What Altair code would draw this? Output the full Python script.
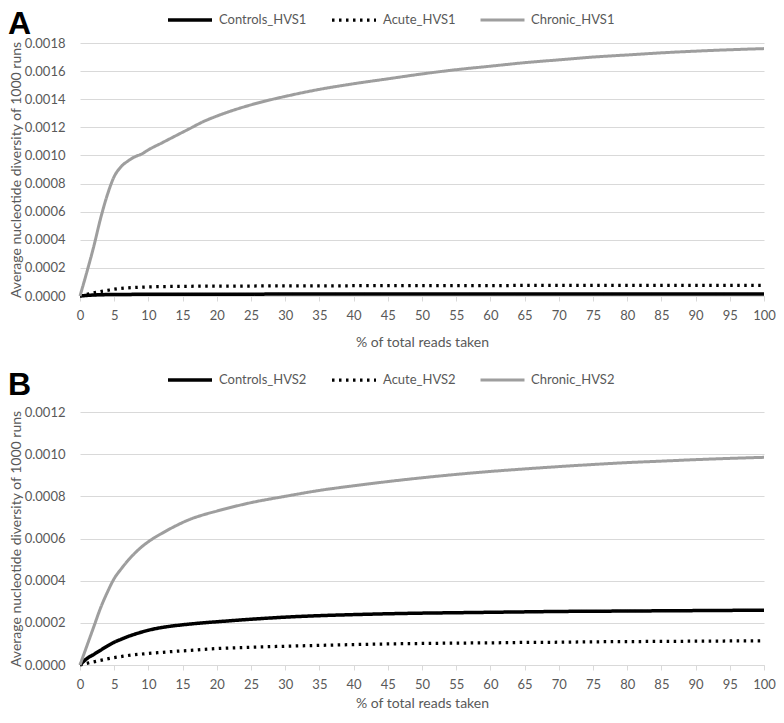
import altair as alt
import pandas as pd

x_pct = [0, 1, 2, 3, 4, 5, 6, 7, 8, 9, 10, 12, 14, 16, 18, 20, 25, 30, 35, 40,
         45, 50, 55, 60, 65, 70, 75, 80, 85, 90, 95, 100]

controls_hvs1 = [0, 0.000004, 0.000007, 0.000009, 0.00001, 0.00001, 0.000011, 0.000011,
                 0.000012, 0.000012, 0.000012, 0.000012, 0.000013, 0.000013, 0.000013,
                 0.000013, 0.000013, 0.000014, 0.000014, 0.000014, 0.000014, 0.000014,
                 0.000014, 0.000014, 0.000015, 0.000015, 0.000015, 0.000015, 0.000015,
                 0.000015, 0.000015, 0.000015]
acute_hvs1 = [0, 0.000012, 0.000022, 0.000032, 0.00004, 0.000048, 0.000054, 0.000058,
              0.000061, 0.000063, 0.000065, 0.000067, 0.000068, 0.000069, 0.00007,
              0.00007, 0.000071, 0.000072, 0.000072, 0.000073, 0.000073, 0.000074,
              0.000074, 0.000074, 0.000075, 0.000075, 0.000075, 0.000075, 0.000076,
              0.000076, 0.000076, 0.000076]
chronic_hvs1 = [0, 0.00017, 0.00035, 0.00055, 0.00072, 0.00085, 0.00092, 0.00096,
                0.00099, 0.00101, 0.00104, 0.00109, 0.00114, 0.00119, 0.00124, 0.00128,
                0.00136, 0.00142, 0.00147, 0.00151, 0.001545, 0.00158, 0.00161, 0.001635,
                0.00166, 0.00168, 0.0017, 0.001715, 0.00173, 0.001742, 0.001752, 0.00176]

controls_hvs2 = [0, 0.00003, 0.00005, 0.00007, 0.00009, 0.000108, 0.000122, 0.000135,
                 0.000146, 0.000156, 0.000165, 0.000178, 0.000187, 0.000194, 0.0002,
                 0.000205, 0.000217, 0.000227, 0.000234, 0.000239, 0.000243, 0.000246,
                 0.000248, 0.00025, 0.000252, 0.000254, 0.000255, 0.000256, 0.000257,
                 0.000258, 0.000259, 0.00026]
acute_hvs2 = [0, 0.000008, 0.000015, 0.000022, 0.000029, 0.000035, 0.00004, 0.000045,
              0.000049, 0.000052, 0.000055, 0.00006, 0.000065, 0.000069, 0.000074,
              0.000078, 0.000084, 0.000089, 0.000093, 0.000097, 0.0001, 0.000102,
              0.000104, 0.000105, 0.000107, 0.000108, 0.00011, 0.000111, 0.000112,
              0.000113, 0.000114, 0.000115]
chronic_hvs2 = [0, 0.00009, 0.00018, 0.00027, 0.000345, 0.00041, 0.000455, 0.000495,
                0.00053, 0.00056, 0.000585, 0.000625, 0.00066, 0.00069, 0.000712, 0.00073,
                0.00077, 0.0008, 0.000828, 0.00085, 0.00087, 0.000888, 0.000904, 0.000918,
                0.00093, 0.000941, 0.000951, 0.00096, 0.000967, 0.000974, 0.00098, 0.000985]

series_a = ["Controls_HVS1", "Acute_HVS1", "Chronic_HVS1"]
series_b = ["Controls_HVS2", "Acute_HVS2", "Chronic_HVS2"]
y_ticks_a = [0.0, 0.0002, 0.0004, 0.0006, 0.0008, 0.0010, 0.0012, 0.0014, 0.0016, 0.0018]
y_ticks_b = [0.0, 0.0002, 0.0004, 0.0006, 0.0008, 0.0010, 0.0012]
x_ticks = [0, 5, 10, 15, 20, 25, 30, 35, 40, 45, 50, 55, 60, 65, 70, 75, 80, 85, 90, 95, 100]

FONT = "Lato"
TXT = "#595959"
GRID = "#d9d9d9"


def make_df(names, vals):
    rows = []
    for name, v in zip(names, vals):
        for xx, yy in zip(x_pct, v):
            rows.append({"x": xx, "y": yy, "series": name})
    return pd.DataFrame(rows)


def panel(names, vals, yticks, letter, legend_y, letter_y, title_pad, h):
    df = make_df(names, vals)
    leg = alt.Legend(
        title=None, orient="none", legendX=86, legendY=legend_y,
        direction="horizontal", symbolType="stroke", symbolSize=1936,
        labelFont=FONT, labelFontSize=13, labelColor=TXT,
        columnPadding=23, labelOffset=5, clipHeight=16,
    )
    lines = alt.Chart(df).mark_line(interpolate="monotone").encode(
        x=alt.X("x:Q", scale=alt.Scale(domain=[0, 100], nice=False),
                axis=alt.Axis(values=x_ticks, title="% of total reads taken",
                              grid=False, domainColor=GRID, tickColor=GRID,
                              tickSize=5, labelPadding=8, titlePadding=title_pad,
                              labelFlush=False,
                              labelFont=FONT, labelFontSize=13, labelColor=TXT,
                              titleFont=FONT, titleFontSize=14, titleColor=TXT,
                              titleFontWeight="normal")),
        y=alt.Y("y:Q", scale=alt.Scale(domain=[0, yticks[-1]], nice=False),
                axis=alt.Axis(values=yticks, format=".4f",
                              title="Average nucleotide diversity of 1000 runs",
                              grid=True, gridColor=GRID, domain=False, ticks=False,
                              labelPadding=15, titlePadding=1,
                              labelFont=FONT, labelFontSize=13, labelColor=TXT,
                              titleFont=FONT, titleFontSize=14, titleColor=TXT,
                              titleFontWeight="normal")),
        color=alt.Color("series:N", scale=alt.Scale(domain=names,
                        range=["#000000", "#000000", "#9e9e9e"]), legend=leg),
        strokeDash=alt.StrokeDash("series:N", scale=alt.Scale(domain=names,
                                  range=[[1, 0], [2.5, 4.5], [1, 0]]), legend=leg),
        strokeWidth=alt.StrokeWidth("series:N", scale=alt.Scale(domain=names,
                                    range=[3.5, 3, 3]), legend=leg),
    )
    lab = alt.Chart(pd.DataFrame({"label": [letter]})).mark_text(
        font="Arial", fontSize=32, fontWeight="bold", align="left",
        baseline="alphabetic", color="black"
    ).encode(x=alt.value(-72), y=alt.value(letter_y), text="label:N")
    return alt.layer(lines, lab).properties(width=684, height=h)


top = panel(series_a, [controls_hvs1, acute_hvs1, chronic_hvs1], y_ticks_a, "A", -31, -9, 13, 253)
bottom = panel(series_b, [controls_hvs2, acute_hvs2, chronic_hvs2], y_ticks_b, "B", -40, -17, 5, 253)

chart = alt.vconcat(top, bottom, spacing=20).resolve_scale(
    color="independent", strokeDash="independent", strokeWidth="independent"
).resolve_legend(
    color="independent", strokeDash="independent", strokeWidth="independent"
).properties(
    padding={"left": 0, "top": 0, "right": 0, "bottom": 0}
).configure_view(stroke=None)

chart.save("out.html", embed_options={"renderer": "svg", "actions": False})
